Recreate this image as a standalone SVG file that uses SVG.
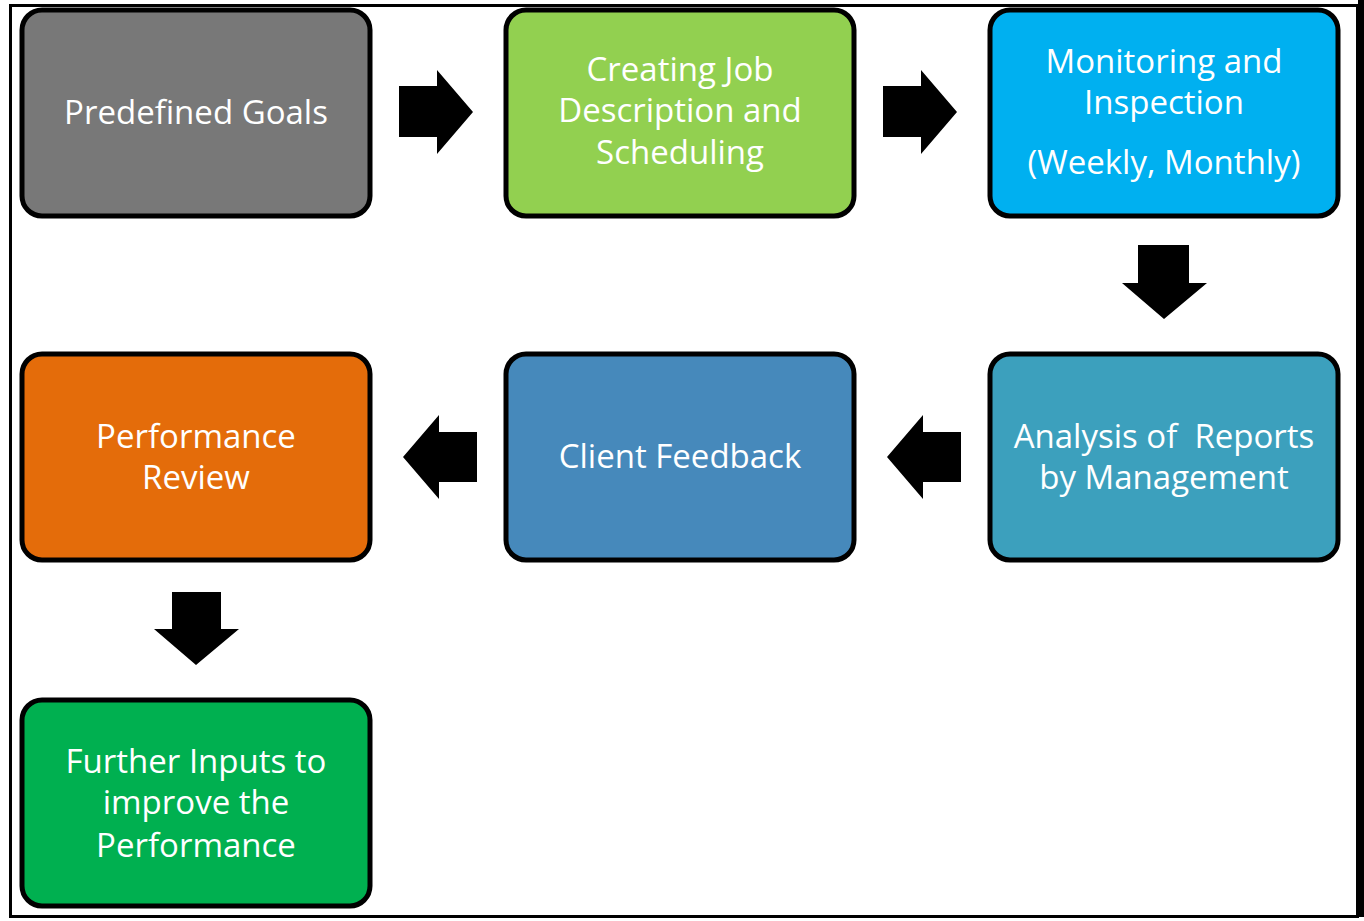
<svg xmlns="http://www.w3.org/2000/svg" width="1364" height="921" viewBox="0 0 1364 921">
<style>
.box{stroke:#000;stroke-width:5}
.t{font-family:"Open Sans",Lato,sans-serif;font-size:33px;fill:#fff;text-anchor:middle;white-space:pre}
.arr{fill:#000}
</style>
<rect x="0" y="0" width="1364" height="921" fill="#fff"/>
<rect x="10.5" y="5.5" width="1347" height="911" fill="none" stroke="#000" stroke-width="3"/>
<rect x="1358" y="0" width="6" height="917" fill="#000"/>
<g id="n1"><rect class="box" x="22" y="10" width="348" height="206" rx="20" fill="#787878"/>
<text class="t" x="196" y="124">Predefined Goals</text></g>
<g id="n2"><rect class="box" x="506" y="10" width="348" height="206" rx="20" fill="#92D050"/>
<text class="t" x="680" y="81">Creating Job</text><text class="t" x="680" y="122">Description and</text><text class="t" x="680" y="164">Scheduling</text></g>
<g id="n3"><rect class="box" x="990" y="10" width="348" height="206" rx="20" fill="#00B0F0"/>
<text class="t" x="1164" y="73">Monitoring and</text><text class="t" x="1164" y="114">Inspection</text><text class="t" x="1164" y="174">(Weekly, Monthly)</text></g>
<g id="n4"><rect class="box" x="990" y="354" width="348" height="206" rx="20" fill="#3CA0BD"/>
<text class="t" x="1164" y="448">Analysis of  Reports</text><text class="t" x="1164" y="489">by Management</text></g>
<g id="n5"><rect class="box" x="506" y="354" width="348" height="206" rx="20" fill="#4689BB"/>
<text class="t" x="680" y="468">Client Feedback</text></g>
<g id="n6"><rect class="box" x="22" y="354" width="348" height="206" rx="20" fill="#E46C0A"/>
<text class="t" x="196" y="448">Performance</text><text class="t" x="196" y="489">Review</text></g>
<g id="n7"><rect class="box" x="22" y="700" width="348" height="206" rx="20" fill="#00B050"/>
<text class="t" x="196" y="773">Further Inputs to</text><text class="t" x="196" y="814">improve the</text><text class="t" x="196" y="857">Performance</text></g>
<g id="connectors">
<polygon class="arr" points="399,86 437,86 437,70 473,112 437,154 437,137 399,137"/>
<polygon class="arr" points="883,86 921,86 921,70 957,112 921,154 921,137 883,137"/>
<polygon class="arr" points="1138,245 1189,245 1189,283 1207,283 1164,319 1122,283 1138,283"/>
<polygon class="arr" points="961,432 923,432 923,415 887,457 923,499 923,482 961,482"/>
<polygon class="arr" points="477,432 439,432 439,415 403,457 439,499 439,482 477,482"/>
<polygon class="arr" points="172,592 221,592 221,629 239,629 196,665 154,629 172,629"/>
</g>
</svg>
